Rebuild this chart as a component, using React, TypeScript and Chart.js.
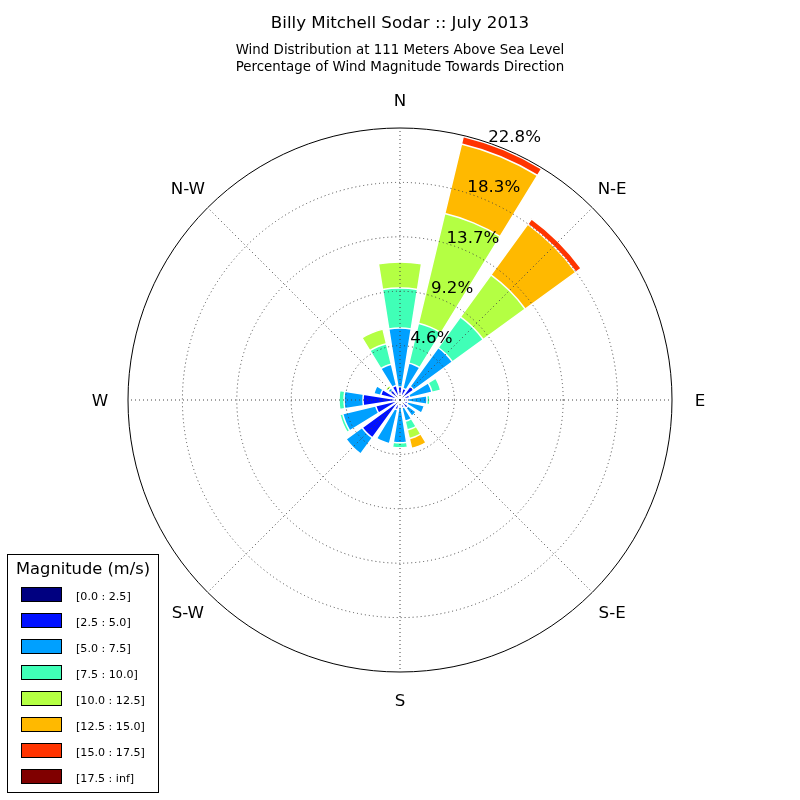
import React, { useEffect, useRef } from 'react';
import { Chart, registerables } from 'chart.js';

Chart.register(...registerables);

const FONT = "'DejaVu Sans', sans-serif";

const TITLE = 'Billy Mitchell Sodar :: July 2013';
const SUBTITLE = [
  'Wind Distribution at 111 Meters Above Sea Level',
  'Percentage of Wind Magnitude Towards Direction',
];

// 16 sectors, clockwise from North
const DIRECTIONS = ['N', 'NNE', 'NE', 'ENE', 'E', 'ESE', 'SE', 'SSE', 'S', 'SSW', 'SW', 'WSW', 'W', 'WNW', 'NW', 'NNW'];
const COMPASS_LABELS = ['N', 'N-E', 'E', 'S-E', 'S', 'S-W', 'W', 'N-W'];

const LEGEND_TITLE = 'Magnitude (m/s)';
const SPEED_BINS = [
  '[0.0 : 2.5]',
  '[2.5 : 5.0]',
  '[5.0 : 7.5]',
  '[7.5 : 10.0]',
  '[10.0 : 12.5]',
  '[12.5 : 15.0]',
  '[15.0 : 17.5]',
  '[17.5 : inf]',
];
const BIN_COLORS = ['#000080', '#0010FF', '#00A0FF', '#40FFB7', '#B4FF43', '#FFB900', '#FF3400', '#800000'];

// percentage of time per speed bin, per direction (order of DIRECTIONS)
const SPEED_00_25 = [0.25, 0.25, 0.33, 0.25, 0.25, 0.17, 0.17, 0.25, 0.25, 0.25, 0.25, 0.25, 0.25, 0.25, 0.17, 0.25];
const SPEED_25_50 = [0.84, 0.75, 1.09, 0.59, 0.42, 0.5, 0.67, 0.42, 0.33, 0.59, 3.68, 1.84, 2.85, 1.42, 0.84, 1.0];
const SPEED_50_75 = [4.94, 2.18, 4.02, 1.92, 1.59, 1.42, 0.84, 1.17, 3.01, 2.93, 1.67, 2.85, 1.59, 0.59, 0.25, 1.84];
const SPEED_75_100 = [3.35, 3.43, 3.18, 0.75, 0.25, 0, 0, 0.75, 0.42, 0, 0, 0.25, 0.42, 0, 0, 1.76];
const SPEED_100_125 = [2.18, 9.46, 4.35, 0, 0, 0, 0, 0.75, 0, 0, 0, 0, 0, 0, 0.25, 1.26];
const SPEED_125_150 = [0, 6.0, 5.25, 0, 0, 0, 0, 0.84, 0, 0, 0, 0, 0, 0, 0, 0];
const SPEED_150_175 = [0, 0.65, 0.55, 0, 0, 0, 0, 0, 0, 0, 0, 0, 0, 0, 0, 0];
const SPEED_175_INF = [0, 0, 0, 0, 0, 0, 0, 0, 0, 0, 0, 0, 0, 0, 0, 0];

const R_MAX = 22.8;
const RING_VALUES = [0, 4.56, 9.12, 13.68, 18.24, 22.8];
const RING_LABELS = ['4.6%', '9.2%', '13.7%', '18.3%', '22.8%'];

const BINS = [SPEED_00_25, SPEED_25_50, SPEED_50_75, SPEED_75_100, SPEED_100_125, SPEED_125_150, SPEED_150_175, SPEED_175_INF];

const SECTOR = 360 / DIRECTIONS.length;
const BAR_ANGLE = SECTOR * 0.8;
const GAP_ANGLE = SECTOR - BAR_ANGLE;

function buildDatasets() {
  return BINS.map((_, b) => {
    const cum = DIRECTIONS.map((__, d) => BINS.slice(0, b + 1).reduce((s, arr) => s + arr[d], 0));
    // element 0 is a lead-in spacer so that each bar is centred on its direction
    const data: number[] = [0];
    cum.forEach((v) => {
      data.push(v, 0);
    });
    const isBar = (c: any) => c.dataIndex % 2 === 1;
    return {
      label: SPEED_BINS[b],
      data,
      backgroundColor: (c: any) => (isBar(c) ? BIN_COLORS[b] : 'rgba(0,0,0,0)'),
      borderColor: '#ffffff',
      borderWidth: (c: any) => (isBar(c) ? 1.5 : 0),
      angle: (c: any) => (c.dataIndex === 0 ? 360 - BAR_ANGLE / 2 : isBar(c) ? BAR_ANGLE : GAP_ANGLE),
    };
  });
}

const overlayPlugin = {
  id: 'roseOverlay',
  afterDraw(chart: any) {
    const ctx = chart.ctx;
    const s = chart.scales.r;
    ctx.save();
    ctx.fillStyle = '#000';
    ctx.textAlign = 'center';
    ctx.textBaseline = 'middle';
    ctx.font = `16.67px ${FONT}`;
    COMPASS_LABELS.forEach((lab, i) => {
      const p = s.getPointPosition(i, s.drawingArea + 28);
      ctx.fillText(lab, p.x, p.y + 2);
    });
    const a = (22.5 * Math.PI) / 180 - Math.PI / 2;
    RING_LABELS.forEach((lab, k) => {
      const r = s.getDistanceFromCenterForValue(RING_VALUES[k + 1]);
      ctx.fillText(lab, s.xCenter + Math.cos(a) * r + 10.5, s.yCenter + Math.sin(a) * r - 11);
    });

    // legend box
    ctx.fillStyle = '#fff';
    ctx.fillRect(7.5, 554.5, 151, 238);
    ctx.strokeStyle = '#000';
    ctx.lineWidth = 1;
    ctx.strokeRect(7.5, 554.5, 151, 238);
    ctx.fillStyle = '#000';
    ctx.font = `16.3px ${FONT}`;
    ctx.textAlign = 'center';
    ctx.fillText(LEGEND_TITLE, 83, 570);
    ctx.font = `11.1px ${FONT}`;
    ctx.textAlign = 'left';
    SPEED_BINS.forEach((lab, i) => {
      const y = 587.5 + 26 * i;
      ctx.fillStyle = BIN_COLORS[i];
      ctx.fillRect(21.5, y, 40, 14);
      ctx.strokeStyle = '#000';
      ctx.strokeRect(21.5, y, 40, 14);
      ctx.fillStyle = '#000';
      ctx.fillText(lab, 76, y + 10);
    });
    ctx.restore();
  },
};

export default function App() {
  const canvasRef = useRef<HTMLCanvasElement | null>(null);

  useEffect(() => {
    if (!canvasRef.current) return;
    const lastRing = RING_VALUES.length - 1;
    const chart = new Chart(canvasRef.current, {
      type: 'polarArea',
      data: { datasets: buildDatasets() as any },
      options: {
        responsive: false,
        animation: false,
        events: [],
        layout: { padding: { top: 0, left: 128, right: 128, bottom: 128 } },
        plugins: {
          legend: { display: false },
          tooltip: { enabled: false },
          title: {
            display: true,
            text: TITLE,
            color: '#000',
            font: { family: FONT, size: 16.67, weight: 'normal', lineHeight: '20px' },
            padding: { top: 14, bottom: 0 },
          },
          subtitle: {
            display: true,
            text: SUBTITLE,
            color: '#000',
            font: { family: FONT, size: 13.4, weight: 'normal', lineHeight: '17px' },
            padding: { top: 8.5, bottom: 51.5 },
          },
        },
        scales: {
          r: {
            min: 0,
            max: R_MAX,
            startAngle: 0,
            labels: COMPASS_LABELS,
            ticks: { display: false },
            afterBuildTicks: (scale: any) => {
              scale.ticks = RING_VALUES.map((v) => ({ value: v }));
            },
            grid: {
              z: 1,
              circular: true,
              color: (c: any) => (c.index === lastRing ? '#000' : '#444'),
              lineWidth: 1,
            },
            border: {
              dash: (c: any) => (c.index === lastRing ? [] : [1, 3]),
            },
            angleLines: { display: true, color: '#444', lineWidth: 1, borderDash: [1, 3] },
            pointLabels: { display: false },
          } as any,
        },
      } as any,
      plugins: [overlayPlugin],
    });
    return () => chart.destroy();
  }, []);

  return (
    <div style={{ position: 'fixed', left: 0, top: 0, width: 800, height: 800, background: '#fff' }}>
      <canvas ref={canvasRef} width={800} height={800} />
    </div>
  );
}
